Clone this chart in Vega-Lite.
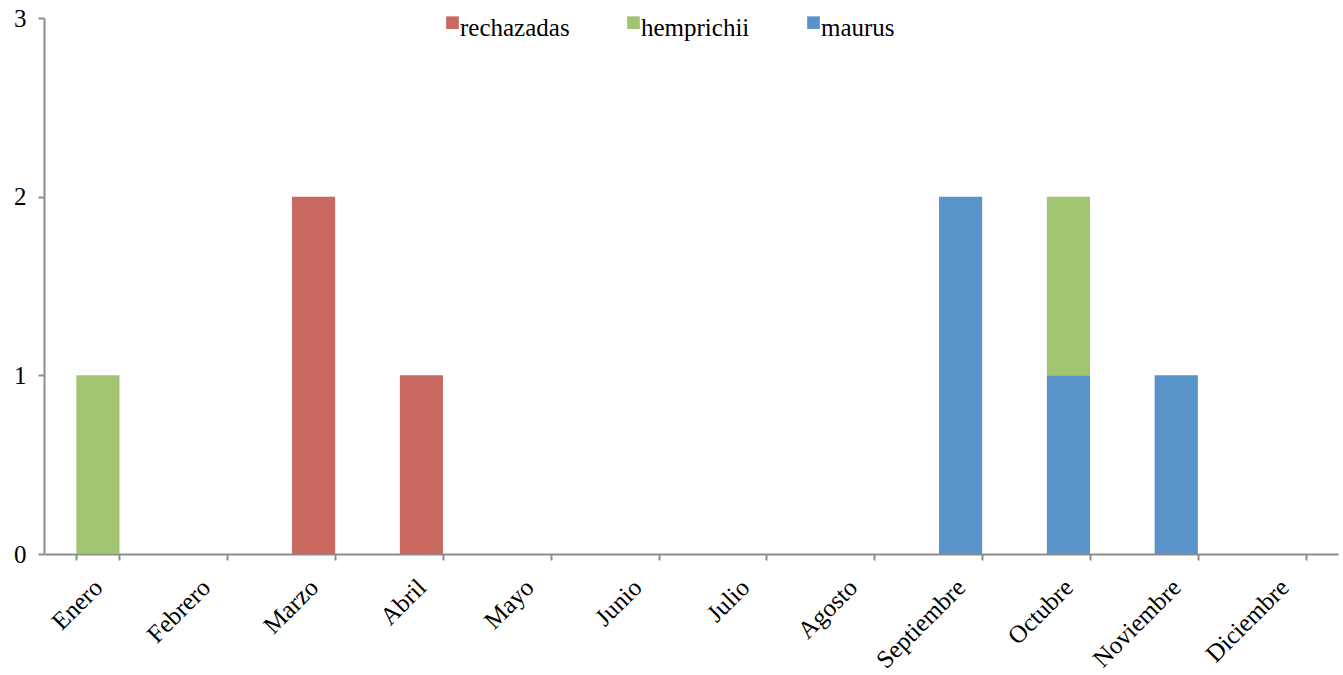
{
  "$schema": "https://vega.github.io/schema/vega-lite/v6.json",
  "width": 1294,
  "height": 536,
  "autosize": {"type": "none"},
  "padding": {"left": 44, "top": 18, "right": 5, "bottom": 121},
  "background": "white",
  "config": {
    "view": {"stroke": null},
    "font": "Liberation Serif",
    "axis": {"domainColor": "#8c8c8c", "tickColor": "#8c8c8c", "domainWidth": 2, "tickWidth": 2, "labelColor": "#000", "labelFont": "Liberation Serif", "grid": false},
    "legend": {"labelFont": "Liberation Serif", "labelColor": "#000"}
  },
  "data": {
    "values": [
      {"mes": "Enero", "especie": "hemprichii", "n": 1},
      {"mes": "Marzo", "especie": "rechazadas", "n": 2},
      {"mes": "Abril", "especie": "rechazadas", "n": 1},
      {"mes": "Septiembre", "especie": "maurus", "n": 2},
      {"mes": "Octubre", "especie": "maurus", "n": 1},
      {"mes": "Octubre", "especie": "hemprichii", "n": 1},
      {"mes": "Noviembre", "especie": "maurus", "n": 1}
    ]
  },
  "transform": [
    {"calculate": "datum.especie === 'maurus' ? 0 : (datum.especie === 'hemprichii' ? 1 : 2)", "as": "orden"}
  ],
  "mark": {"type": "bar"},
  "encoding": {
    "x": {
      "field": "mes", "type": "nominal",
      "sort": ["Enero","Febrero","Marzo","Abril","Mayo","Junio","Julio","Agosto","Septiembre","Octubre","Noviembre","Diciembre"],
      "scale": {"domain": ["Enero","Febrero","Marzo","Abril","Mayo","Junio","Julio","Agosto","Septiembre","Octubre","Noviembre","Diciembre"], "paddingInner": 0.6, "paddingOuter": 0.3},
      "axis": {"title": null, "labelAngle": -45, "labelAlign": "right", "labelBaseline": "middle", "labelFont": "Liberation Serif", "labelFontSize": 25, "tickSize": 6, "tickBand": "extent", "labelPadding": 23}
    },
    "y": {
      "field": "n", "type": "quantitative", "stack": "zero",
      "scale": {"domain": [0, 3], "nice": false},
      "axis": {"title": null, "values": [0, 1, 2, 3], "format": "d", "labelFont": "Liberation Serif", "labelFontSize": 25, "tickSize": 6, "labelPadding": 12}
    },
    "color": {
      "field": "especie", "type": "nominal",
      "scale": {"domain": ["rechazadas", "hemprichii", "maurus"], "range": ["#C86861", "#A0C46F", "#5893C9"]},
      "legend": {"title": null, "orient": "none", "legendX": 396, "legendY": -3, "direction": "horizontal", "symbolType": "M-1,-1.8H1V0.2H-1Z", "symbolSize": 160, "symbolStrokeWidth": 0, "labelFont": "Liberation Serif", "labelFontSize": 25, "labelBaseline": "middle", "labelOffset": -5, "columnPadding": 51}
    },
    "order": {"field": "orden", "type": "quantitative"}
  }
}
